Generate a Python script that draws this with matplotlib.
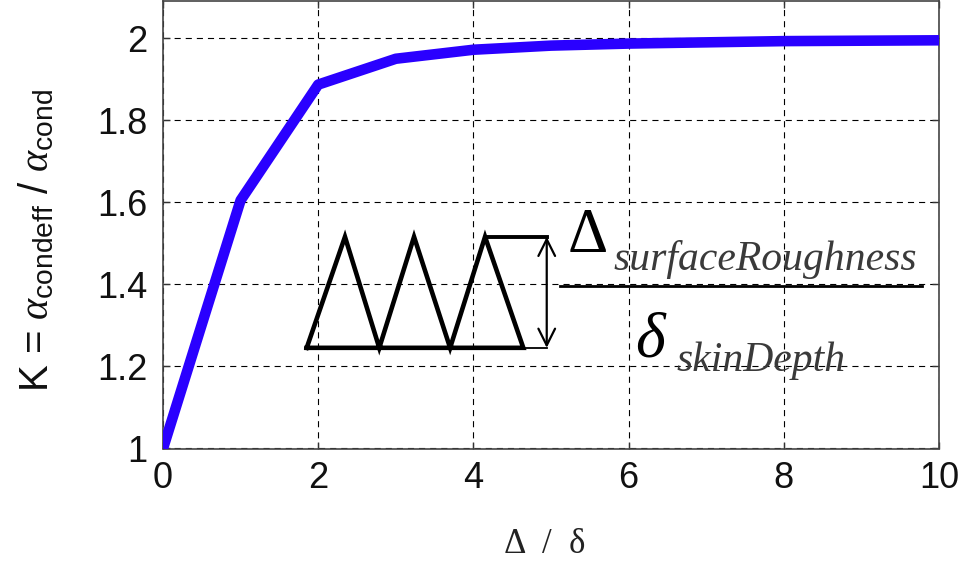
import matplotlib
matplotlib.use("Agg")
import matplotlib.pyplot as plt
from matplotlib.patches import FancyArrowPatch

# Roughness correction factor vs. roughness-to-skin-depth ratio
ratio = [0, 1, 2, 3, 4, 5, 6, 7, 8, 9, 10]
k_factor = [1.0, 1.605, 1.887, 1.950, 1.972, 1.982, 1.987, 1.990, 1.993, 1.994, 1.995]

x_ticks = [0, 2, 4, 6, 8, 10]
y_ticks = [1, 1.2, 1.4, 1.6, 1.8, 2]
y_tick_labels = ["1", "1.2", "1.4", "1.6", "1.8", "2"]

plt.rcParams["mathtext.fontset"] = "custom"
plt.rcParams["mathtext.rm"] = "Liberation Sans"
plt.rcParams["mathtext.it"] = "Liberation Serif:italic"
plt.rcParams["mathtext.sf"] = "Liberation Sans"

W, H = 965, 564
fig = plt.figure(figsize=(W / 100, H / 100), dpi=100)
left_px, right_px, top_px, bottom_px = 163, 939, 0.5, 448.5
ax = fig.add_axes([left_px / W, 1 - bottom_px / H,
                   (right_px - left_px) / W, (bottom_px - top_px) / H])

ax.plot(ratio, k_factor, color="#2a00ff", lw=7.6, solid_joinstyle="round",
        solid_capstyle="butt", zorder=3)

ax.set_xlim(0, 10)
ax.set_ylim(1, 2.092)
ax.set_xticks(x_ticks)
ax.set_xticklabels([str(t) for t in x_ticks])
ax.set_yticks(y_ticks)
ax.set_yticklabels(y_tick_labels)

for lab in ax.get_xticklabels() + ax.get_yticklabels():
    lab.set_fontfamily("Liberation Sans")
    lab.set_fontsize(26)
    lab.set_color("#111111")
ax.tick_params(axis="both", direction="in", length=5, width=1.0,
               top=True, right=True, color="#333333")
ax.tick_params(axis="x", pad=9)
ax.tick_params(axis="y", pad=11)

ax.grid(True, color="black", lw=0.8, linestyle=(0, (5.5, 4.5)))
for s in ax.spines.values():
    s.set_linewidth(1.2)
    s.set_color("#444444")

# Axis labels
fig.text(36 / W, 1 - 240 / H,
         r"K = $\alpha_{\mathrm{condeff}}$ / $\alpha_{\mathrm{cond}}$",
         rotation=90, ha="center", va="center", fontsize=29,
         family="Liberation Sans", color="#111111")
fig.text(545 / W, 1 - 553 / H, "\u0394  /  \u03b4", ha="center",
         va="baseline", fontsize=25, family="Liberation Serif",
         color="#222222")

# Sketch of the rough surface profile
prof_x = [1.852, 2.345, 2.787, 3.235, 3.700, 4.150, 4.643, 1.852]
prof_y = [1.2454, 1.516, 1.2454, 1.516, 1.2454, 1.516, 1.2454, 1.2454]
ax.plot(prof_x, prof_y, color="black", lw=3.3, solid_joinstyle="miter", zorder=4)
ax.plot([4.171, 4.945], [1.516, 1.516], color="black", lw=2.8, zorder=4)
ax.plot([4.643, 4.945], [1.2454, 1.2454], color="black", lw=1.3, zorder=4)
arrow = FancyArrowPatch((4.945, 1.2454), (4.945, 1.516),
                        arrowstyle="<->,head_length=12,head_width=6",
                        color="black", lw=1.6, shrinkA=0, shrinkB=0, zorder=4)
ax.add_patch(arrow)

# Ratio annotation
ax.plot([5.116, 9.777], [1.397, 1.397], color="black", lw=2.0, zorder=4)
ax.text(5.22, 1.4795, "\u0394", family="Liberation Serif", fontsize=45,
        ha="left", va="baseline", color="black", zorder=5)
ax.text(5.80, 1.435, "surfaceRoughness", family="Liberation Serif",
        style="italic", fontsize=30, ha="left", va="baseline",
        color="#3a3a3a", zorder=5)
ax.text(6.08, 1.2234, "\u03b4", family="Liberation Serif", style="italic",
        fontsize=46, ha="left", va="baseline", color="black", zorder=5)
ax.text(6.62, 1.1885, "skinDepth", family="Liberation Serif",
        style="italic", fontsize=30, ha="left", va="baseline",
        color="#3a3a3a", zorder=5)

fig.savefig("out.png", dpi=100)
